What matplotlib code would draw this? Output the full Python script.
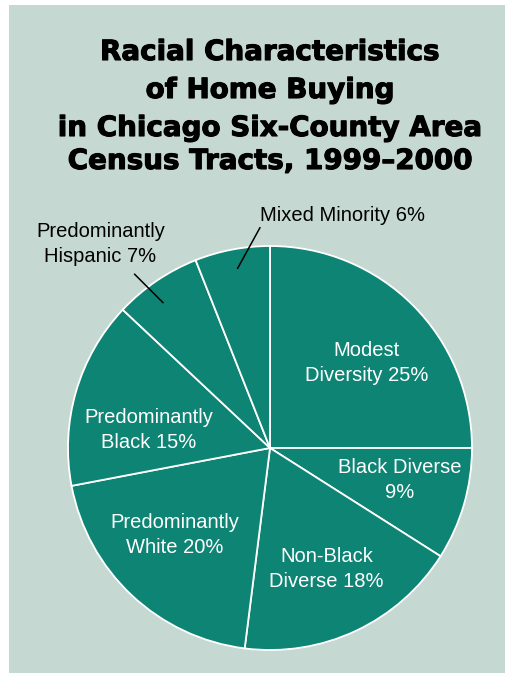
import matplotlib
matplotlib.use("Agg")
import matplotlib.pyplot as plt
from matplotlib.patches import Rectangle
import matplotlib.patheffects as pe

categories = ["Modest\nDiversity 25%", "Black Diverse\n9%", "Non-Black\nDiverse 18%",
              "Predominantly\nWhite 20%", "Predominantly\nBlack 15%",
              "Predominantly\nHispanic 7%", "Mixed Minority 6%"]
values = [25, 9, 18, 20, 15, 7, 6]
title_lines = ["Racial Characteristics", "of Home Buying",
               "in Chicago Six-County Area", "Census Tracts, 1999–2000"]

W, H = 506, 673
fig = plt.figure(figsize=(W / 100, H / 100), dpi=100)
fig.patch.set_facecolor("white")
fig.patches.append(Rectangle((9 / W, 0), 1 - 9 / W, (H - 5) / H,
                             transform=fig.transFigure, facecolor="#c5d9d2",
                             edgecolor="none", zorder=-5))

cx, cy, r = 270, 448, 202
ax = fig.add_axes([(cx - r) / W, (H - cy - r) / H, 2 * r / W, 2 * r / H])
ax.set_zorder(1)
ax.axis("off")
ax.pie(values, startangle=90, counterclock=False, radius=1,
       colors=["#0e8474"] * len(values),
       wedgeprops=dict(edgecolor="white", linewidth=1.3))
ax.set_xlim(-1, 1)
ax.set_ylim(-1, 1)

label_pos = [(0.48, 0.42), (0.64, -0.16), (0.28, -0.60), (-0.47, -0.43),
             (-0.60, 0.09), (-0.84, 1.01), (0.36, 1.15)]
label_col = ["white"] * 5 + ["black", "black"]
for lab, (x, y), c in zip(categories, label_pos, label_col):
    ax.text(x, y, lab, ha="center", va="center", color=c, fontsize=14.5,
            family="Liberation Sans", linespacing=1.4)

ax.plot([-0.67, -0.53], [0.86, 0.72], color="black", lw=1.1, clip_on=False)
ax.plot([-0.05, -0.16], [1.09, 0.89], color="black", lw=1.1, clip_on=False)

ys = [52, 90, 128, 161]
for t, y in zip(title_lines, ys):
    fig.text(270 / W, 1 - y / H, t, ha="center", va="center", fontsize=20,
             fontweight="bold", family="DejaVu Sans", color="black",
             path_effects=[pe.withStroke(linewidth=0.8, foreground="black")])

fig.savefig("out.png", dpi=100)
